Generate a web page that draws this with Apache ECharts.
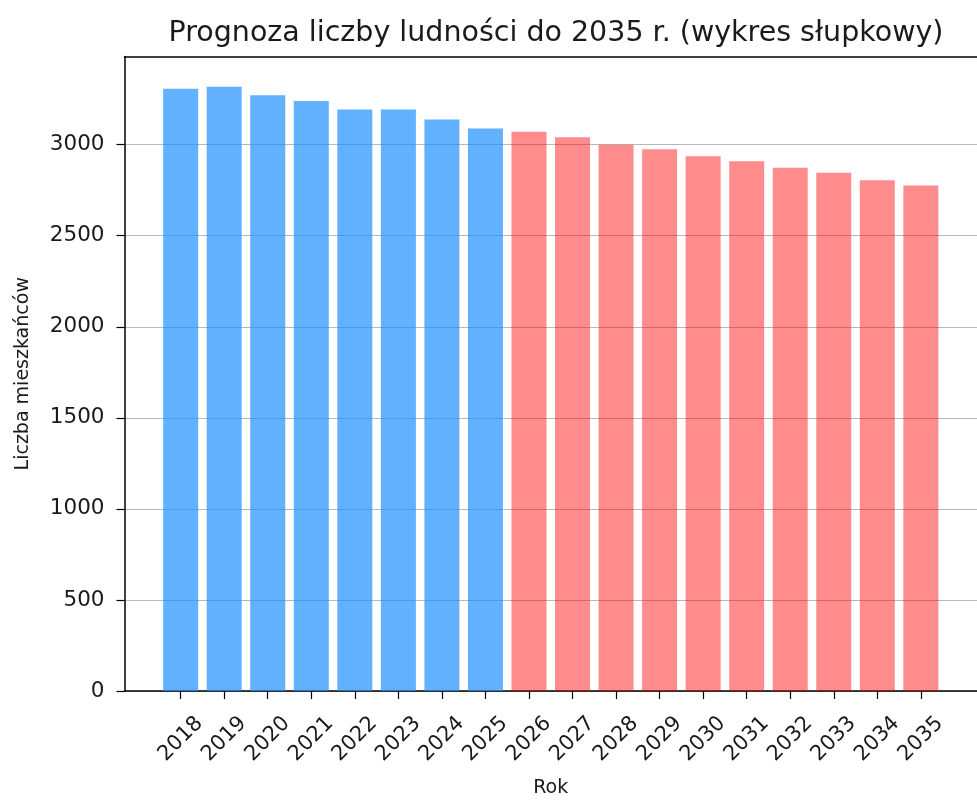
<!DOCTYPE html>
<html>
<head>
<meta charset="utf-8">
<script src="https://cdn.jsdelivr.net/npm/echarts@6/dist/echarts.min.js"></script>
<style>
  html, body { margin: 0; padding: 0; background: #fff; }
  #chart { width: 977px; height: 803px; }
</style>
</head>
<body>
<div id="chart"></div>
<script>
// lata i liczba mieszkańców (odczyt z wykresu)
const years = ['2018', '2019', '2020', '2021', '2022', '2023', '2024', '2025', '2026',
  '2027', '2028', '2029', '2030', '2031', '2032', '2033', '2034', '2035'];
const population = [3307, 3318, 3271, 3240, 3193, 3193, 3138, 3089, 3071,
  3040, 3000, 2975, 2936, 2909, 2873, 2846, 2805, 2776];
const lastHistoric = '2025'; // do tego roku dane, dalej prognoza
const yTicks = [0, 500, 1000, 1500, 2000, 2500, 3000];

const chart = echarts.init(document.getElementById('chart'));
const font = 'DejaVu Sans';
const splitIdx = years.indexOf(lastHistoric);
const yMax = Math.max(...population) * 1.05;
const xIdx = years.map((y, i) => i);

const barData = population.map((v, i) => ({
  value: [i, v],
  itemStyle: i <= splitIdx
    ? { color: '#1e90ff', opacity: 0.7 }
    : { color: '#ff0000', opacity: 0.45 }
}));

const option = {
  animation: false,
  backgroundColor: '#fff',
  title: {
    text: 'Prognoza liczby ludności do 2035 r. (wykres słupkowy)',
    left: 551, top: 14, textAlign: 'center',
    textStyle: { fontFamily: font, fontSize: 28.5, fontWeight: 'normal', color: '#1a1a1a' }
  },
  grid: { left: 124.5, right: -2, top: 56.5, bottom: 109 },
  xAxis: [
    {
      type: 'value',
      min: -1.29, max: 18.29,
      name: 'Rok', nameLocation: 'middle', nameGap: 88,
      nameTextStyle: { fontFamily: font, fontSize: 19, color: '#1a1a1a' },
      splitLine: { show: false },
      axisLine: { onZero: false, lineStyle: { color: '#000', width: 1.5 } },
      axisTick: { customValues: xIdx, length: 8, lineStyle: { color: '#000', width: 1.2 } },
      axisLabel: {
        customValues: xIdx,
        formatter: v => years[Math.round(v)] || '',
        rotate: 45, margin: 48, align: 'center', verticalAlign: 'middle',
        fontFamily: font, fontSize: 21, color: '#1a1a1a'
      }
    },
    {
      type: 'value', position: 'top',
      min: -1.29, max: 18.29,
      splitLine: { show: false },
      axisLine: { onZero: false, lineStyle: { color: '#000', width: 1.5 } },
      axisTick: { show: false },
      axisLabel: { show: false }
    }
  ],
  yAxis: {
    type: 'value',
    min: 0, max: yMax,
    name: 'Liczba mieszkańców', nameLocation: 'middle', nameGap: 92,
    nameTextStyle: { fontFamily: font, fontSize: 19, color: '#1a1a1a' },
    axisLine: { show: true, onZero: false, lineStyle: { color: '#000', width: 1.5 } },
    axisTick: { show: true, customValues: yTicks, length: 8, lineStyle: { color: '#000', width: 1.2 } },
    axisLabel: {
      customValues: yTicks, margin: 20,
      formatter: v => String(v),
      fontFamily: font, fontSize: 21.5, color: '#1a1a1a'
    },
    splitLine: { lineStyle: { color: '#b8b8b8', width: 1.2 } }
  },
  series: [
    {
      type: 'bar',
      xAxisIndex: 0,
      barWidth: 35,
      data: barData
    }
  ]
};

chart.setOption(option);
</script>
</body>
</html>
